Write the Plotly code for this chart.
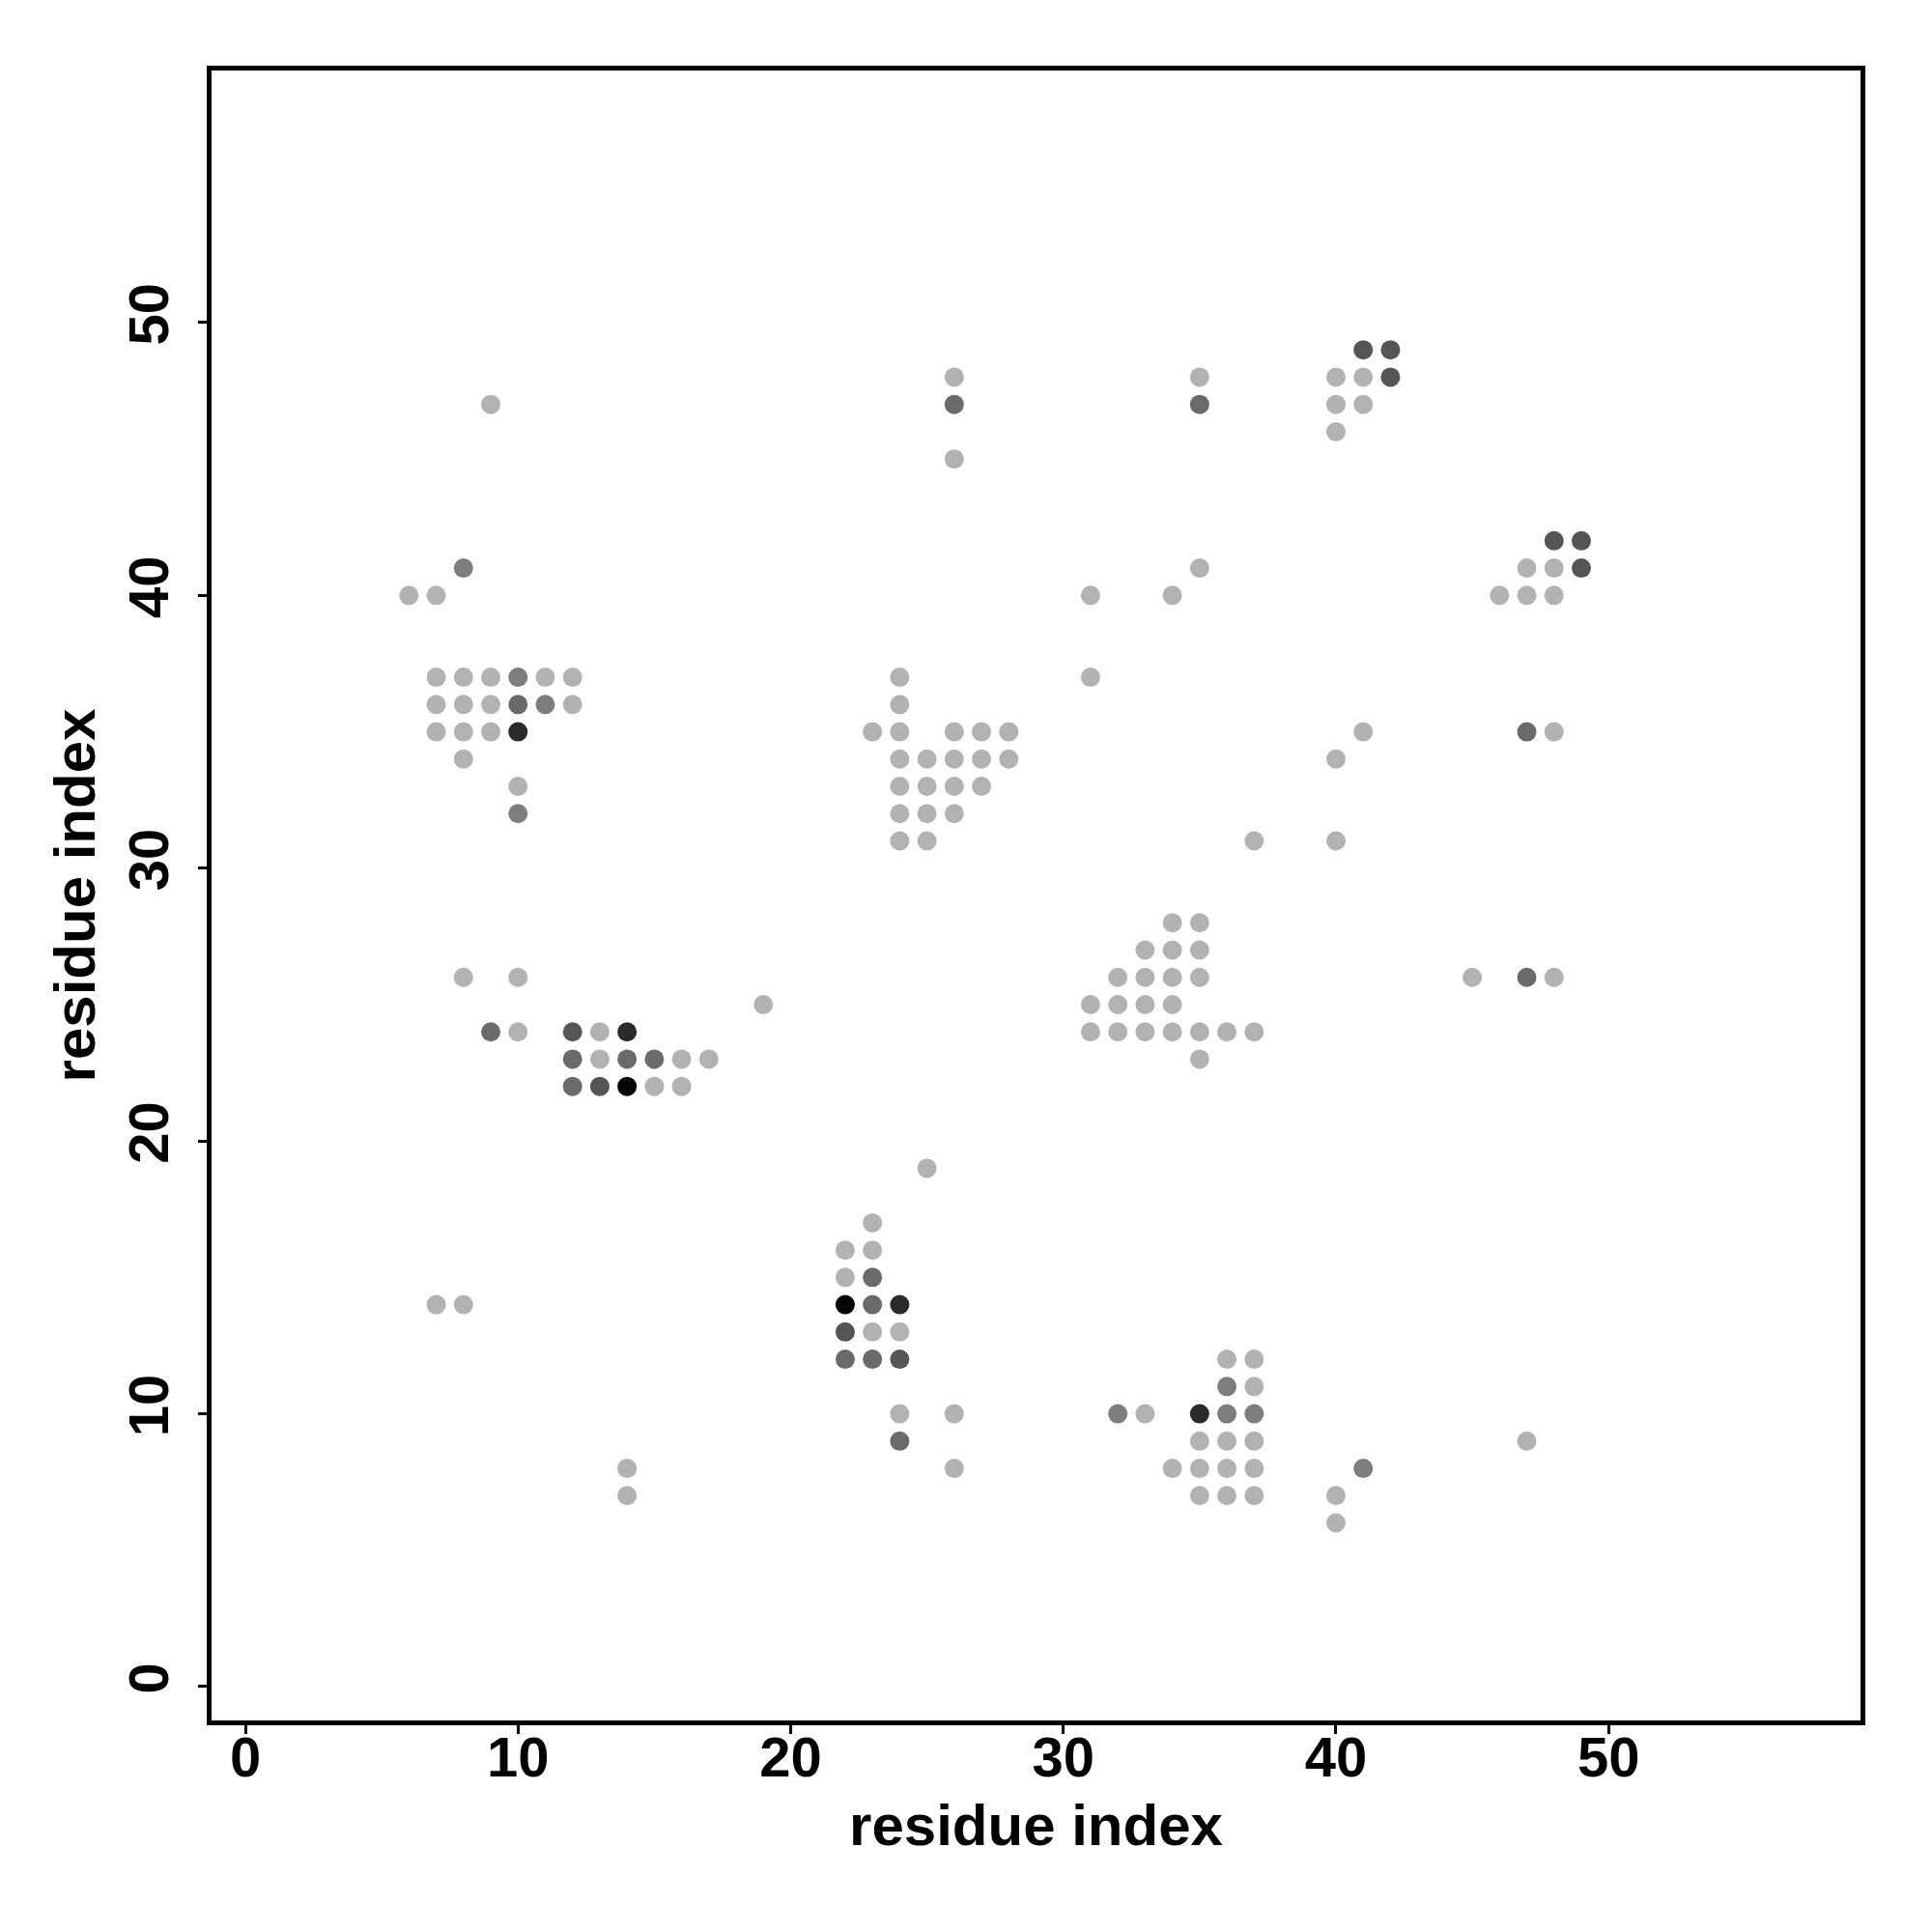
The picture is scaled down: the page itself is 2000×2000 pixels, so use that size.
import plotly.graph_objects as go

# residue contact pairs (x residue, y residue) and contact intensity level (1 = light ... 6 = black)
res_x = [9, 26, 26, 26, 35, 35,
         40, 40, 40, 41, 42, 41, 42, 41,
         48, 49, 47, 48, 49, 46, 47, 48,
         41, 40, 47, 48,
         8, 6, 7,
         7, 8, 9, 10, 11, 12,
         7, 8, 9, 10, 11, 12,
         7, 8, 9, 10,
         8, 10, 10,
         8, 10, 19,
         9, 10, 12, 13, 14,
         12, 13, 14, 15, 16, 17,
         12, 13, 14, 15, 16,
         35, 31, 34, 31,
         24, 24, 23, 24, 26, 27, 28,
         24, 25, 26, 27, 28,
         24, 25, 26, 27,
         24, 25, 26,
         24, 25,
         37, 40,
         34, 35, 33, 34, 35, 32, 33, 34, 35, 31, 32, 33, 34,
         31, 32, 33, 34, 35, 36, 37, 35,
         25,
         45, 47, 48,
         7, 8, 14, 14,
         22, 22, 22, 22, 22,
         23, 23, 23, 23, 23, 23,
         24, 24, 24, 24, 24,
         26, 26,
         32, 33, 35, 36, 37,
         36, 37, 36, 37,
         35, 36, 37,
         34, 35, 36, 37,
         35, 36, 37,
         40, 40, 41, 47]
res_y = [47, 48, 47, 45, 48, 47,
         48, 47, 46, 49, 49, 48, 48, 47,
         42, 42, 41, 41, 41, 40, 40, 40,
         35, 34, 35, 35,
         41, 40, 40,
         37, 37, 37, 37, 37, 37,
         36, 36, 36, 36, 36, 36,
         35, 35, 35, 35,
         34, 33, 32,
         26, 26, 25,
         24, 24, 24, 24, 24,
         23, 23, 23, 23, 23, 23,
         22, 22, 22, 22, 22,
         41, 40, 40, 37,
         37, 36, 35, 35, 35, 35, 35,
         34, 34, 34, 34, 34,
         33, 33, 33, 33,
         32, 32, 32,
         31, 31,
         31, 31,
         28, 28, 27, 27, 27, 26, 26, 26, 26, 25, 25, 25, 25,
         24, 24, 24, 24, 24, 24, 24, 23,
         19,
         26, 26, 26,
         14, 14, 8, 7,
         16, 15, 14, 13, 12,
         17, 16, 15, 14, 13, 12,
         14, 13, 12, 10, 9,
         10, 8,
         10, 10, 10, 10, 10,
         12, 12, 11, 11,
         9, 9, 9,
         8, 8, 8, 8,
         7, 7, 7,
         7, 6, 8, 9]
level = [1, 1, 3, 1, 1, 3,
         1, 1, 1, 4, 4, 1, 4, 1,
         4, 4, 1, 1, 4, 1, 1, 1,
         1, 1, 3, 1,
         2, 1, 1,
         1, 1, 1, 2, 1, 1,
         1, 1, 1, 3, 2, 1,
         1, 1, 1, 5,
         1, 1, 2,
         1, 1, 1,
         3, 1, 4, 1, 5,
         3, 1, 3, 3, 1, 1,
         3, 4, 6, 1, 1,
         1, 1, 1, 1,
         1, 1, 1, 1, 1, 1, 1,
         1, 1, 1, 1, 1,
         1, 1, 1, 1,
         1, 1, 1,
         1, 1,
         1, 1,
         1, 1, 1, 1, 1, 1, 1, 1, 1, 1, 1, 1, 1,
         1, 1, 1, 1, 1, 1, 1, 1,
         1,
         1, 3, 1,
         1, 1, 1, 1,
         1, 1, 6, 4, 3,
         1, 1, 3, 3, 1, 3,
         5, 1, 4, 1, 3,
         1, 1,
         2, 1, 5, 2, 2,
         1, 1, 2, 1,
         1, 1, 1,
         1, 1, 1, 1,
         1, 1, 1,
         1, 1, 2, 1]

tick_vals = [0, 10, 20, 30, 40, 50]
axis_title = "residue index"

gray_for_level = {1: "#b2b2b2", 2: "#7d7d7d", 3: "#6a6a6a", 4: "#555555", 5: "#2a2a2a", 6: "#050505"}
colors = [gray_for_level[v] for v in level]

fig = go.Figure(go.Scatter(
    x=res_x, y=res_y, mode="markers",
    marker=dict(size=20, color=colors, line=dict(width=0)),
    showlegend=False,
))

font_family = "Liberation Sans, Arial, Helvetica, sans-serif"
common = dict(
    range=[-1.24, 59.24], tickvals=tick_vals, ticks="outside", ticklen=9, tickwidth=3,
    tickcolor="black", showline=True, linecolor="black", linewidth=5, mirror=True,
    showgrid=False, zeroline=False,
    tickfont=dict(family=font_family, size=58, color="black", weight="bold"),
)
fig.update_xaxes(**common, ticklabelstandoff=-26,
                 title=dict(text=axis_title, standoff=20,
                 font=dict(family=font_family, size=60, color="black", weight="bold")))
fig.update_yaxes(**common, tickangle=-90, ticklabelstandoff=8,
                 title=dict(text=axis_title, standoff=4,
                 font=dict(family=font_family, size=60, color="black", weight="bold")))

fig.update_layout(
    width=2000, height=2000,
    margin=dict(l=211, r=82, t=65, b=227, autoexpand=False),
    plot_bgcolor="white", paper_bgcolor="white",
)
fig.write_html("out.html")
